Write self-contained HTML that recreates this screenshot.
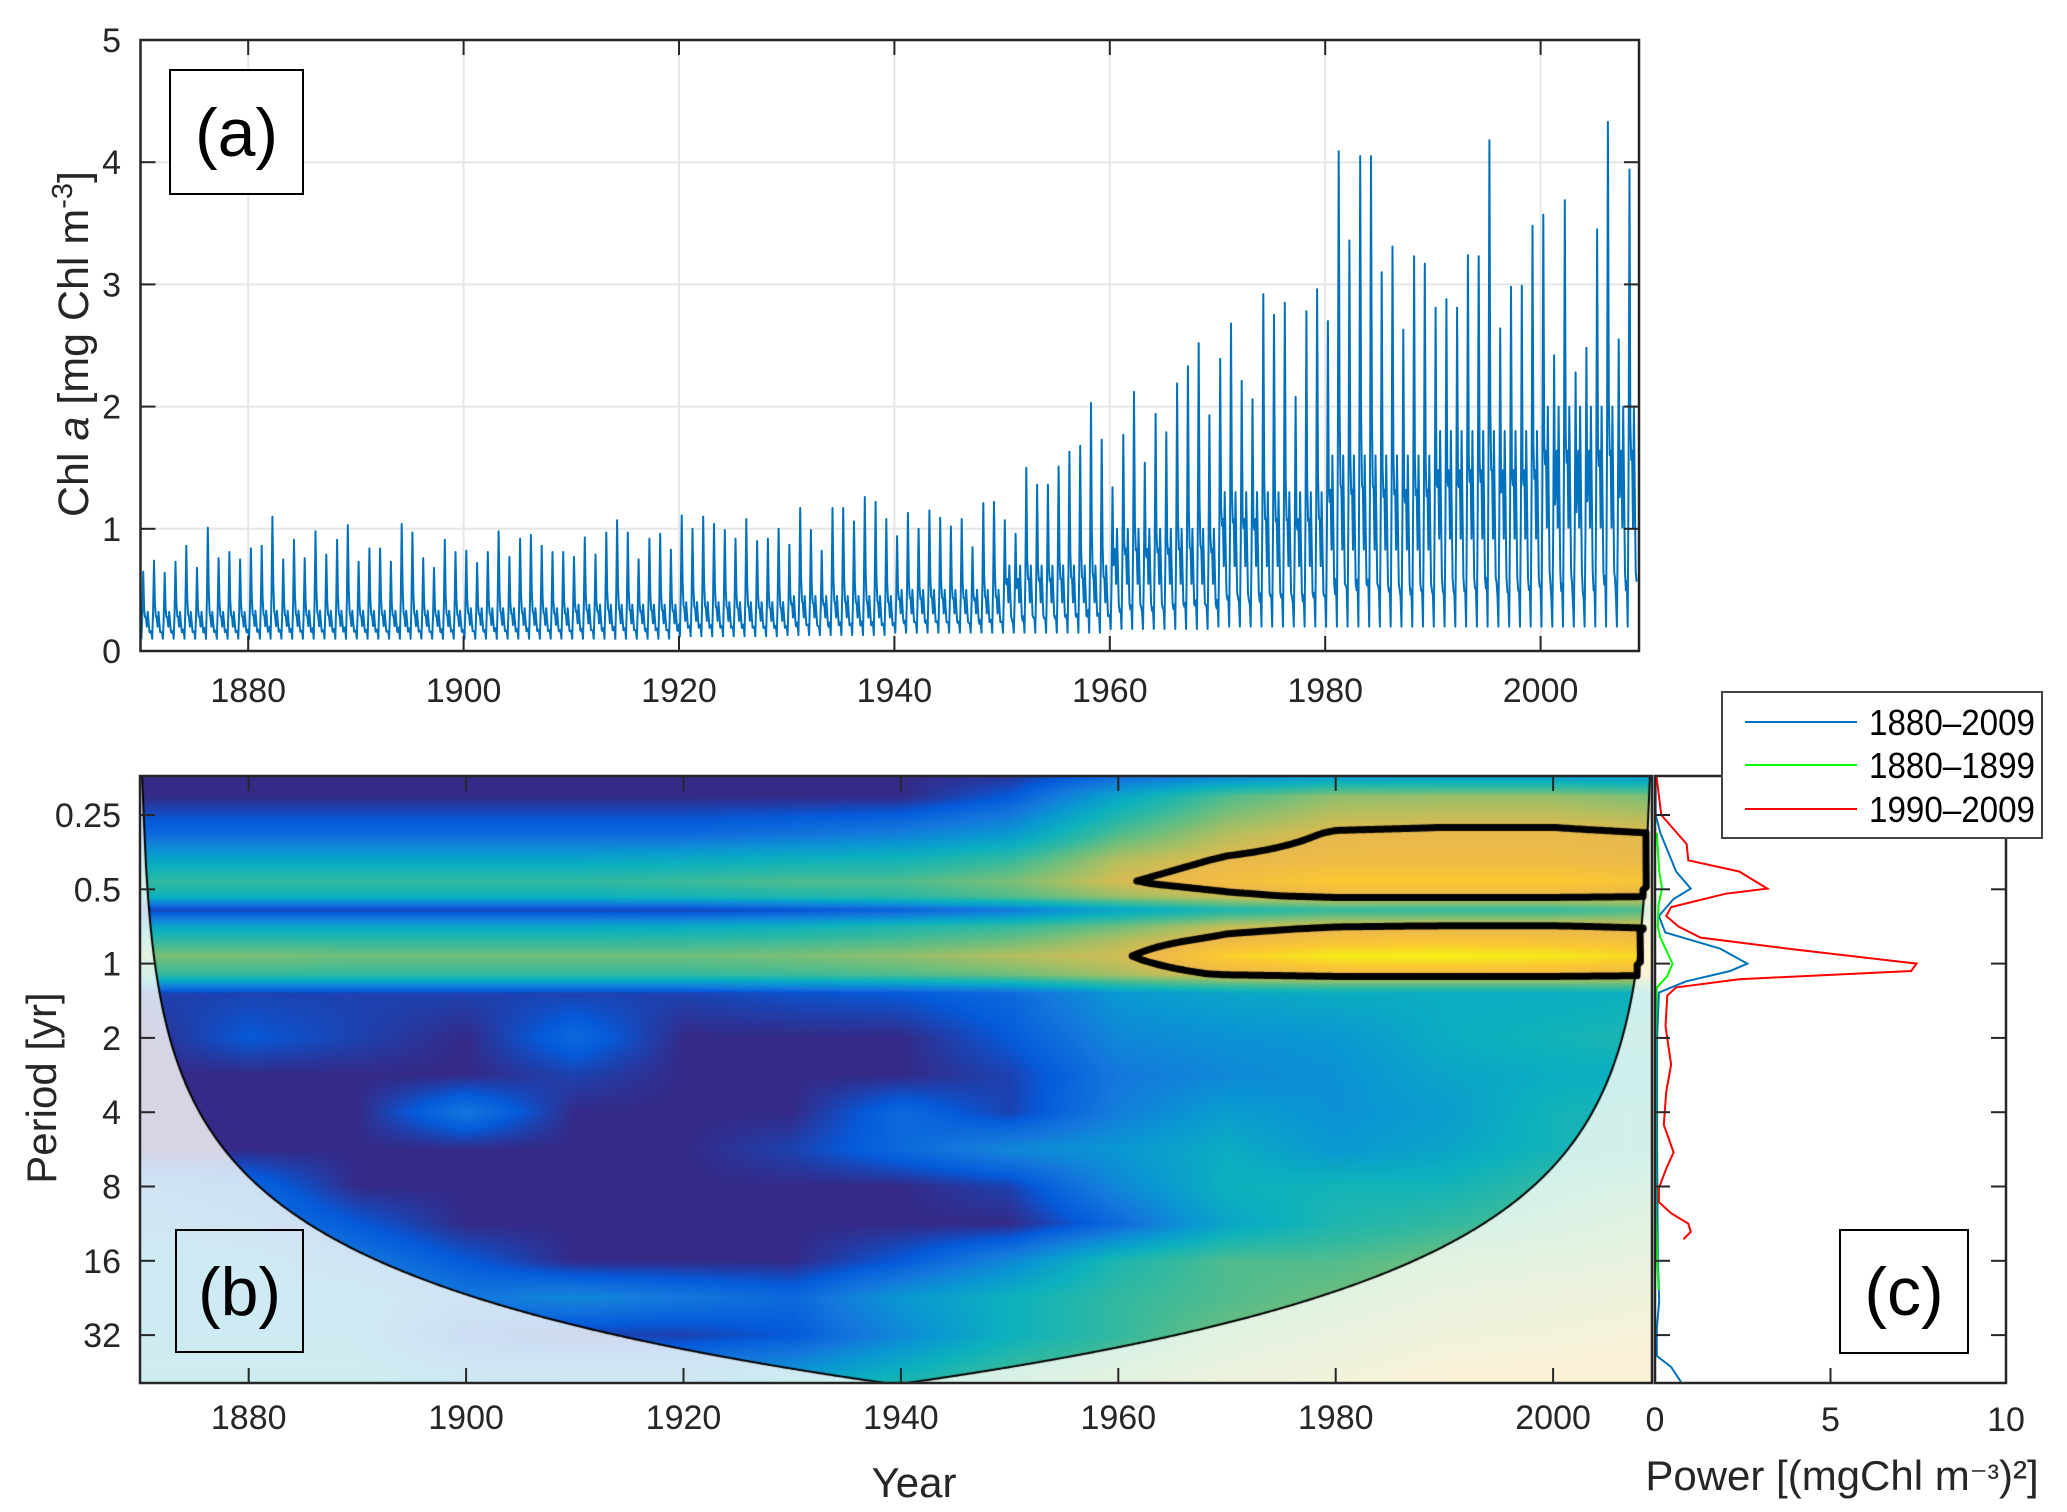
<!DOCTYPE html>
<html><head><meta charset="utf-8">
<style>
html,body{margin:0;padding:0;background:#fff;}
#wrap{position:relative;width:2067px;height:1512px;overflow:hidden;font-family:"Liberation Sans",Arial,sans-serif;}
#heat{position:absolute;left:140px;top:776px;}
#ov{position:absolute;left:0;top:0;}
</style></head>
<body>
<div id="wrap">
<canvas id="heat" width="1512" height="607"></canvas>
<svg id="ov" width="2067" height="1512" xmlns="http://www.w3.org/2000/svg"></svg>
</div>
<script>
// ---------- DATA ----------
const annualPeak = [
0.65,0.74,0.64,0.73,0.86,0.68,1.01,0.76,0.81,0.75,
0.84,0.86,1.10,0.75,0.91,0.76,0.98,0.79,0.91,1.03,
0.73,0.84,0.84,0.73,1.04,0.97,0.76,0.68,0.91,0.81,
0.82,0.72,0.81,0.98,0.77,0.92,0.95,0.86,0.81,0.81,
0.77,0.93,0.79,0.97,1.07,0.97,0.75,0.92,0.96,0.83,
1.11,1.00,1.10,1.04,0.99,0.92,1.08,0.90,0.92,1.00,
0.87,1.17,0.99,0.82,1.17,1.17,1.06,1.26,1.22,1.08,
0.94,1.13,1.00,1.15,1.09,1.02,1.08,0.85,1.21,1.22,
1.07,0.96,1.50,1.36,1.36,1.51,1.63,1.68,2.03,1.73,
1.34,1.77,2.12,1.54,1.94,1.79,2.19,2.33,2.52,1.93,
2.39,2.68,2.21,2.06,2.92,2.75,2.85,2.08,2.78,2.96,
2.70,4.09,3.36,4.05,4.05,3.10,3.31,2.63,3.23,3.17,
2.81,2.88,2.81,3.24,3.23,4.18,2.64,2.98,2.99,3.48,
3.57,2.42,3.69,2.28,2.48,3.45,4.33,2.55,3.94];
const autumnLevelByDecade = [0.32,0.33,0.33,0.35,0.38,0.40,0.45,0.50,0.70,1.00,1.30,1.60,1.80,2.00];
const troughByDecade = [0.10,0.10,0.10,0.10,0.10,0.12,0.13,0.15,0.15,0.18,0.20,0.20,0.20,0.20];
const springShape = [0.1,0,0.35,1,0.45,0.1,0,0,0,0,0,0.05];
const autumnShape = [0,0,0,0,0,0.55,0.8,0.45,1,0.6,0.25,0.1];
const chlTicksY = [0,1,2,3,4,5];
const yearTicks = [1880,1900,1920,1940,1960,1980,2000];

const heatYears = [1870,1880,1890,1900,1910,1920,1930,1940,1950,1960,1970,1980,1990,2000,2010];
const heatLog2Period = [-2.6,-2.25,-1.75,-1.4,-1.1,-0.9,-0.72,-0.5,-0.3,-0.1,0.15,0.4,1,1.5,2,2.5,3,3.5,4,4.5,5,5.65];
const heatPower = [
[0,0,0,0,0,0,0,0,0,0.1,0.15,0.2,0.2,0.2,0.2],
[0,0,0,0,0,0,0,0,0.1,0.35,0.55,0.65,0.66,0.66,0.62],
[0.15,0.15,0.15,0.15,0.15,0.15,0.18,0.22,0.3,0.55,0.7,0.77,0.78,0.78,0.76],
[0.35,0.35,0.35,0.35,0.35,0.37,0.4,0.42,0.5,0.7,0.77,0.8,0.8,0.8,0.78],
[0.5,0.5,0.5,0.5,0.5,0.52,0.55,0.55,0.62,0.75,0.82,0.88,0.88,0.88,0.85],
[0.4,0.4,0.4,0.4,0.4,0.42,0.45,0.48,0.55,0.66,0.73,0.78,0.78,0.78,0.76],
[0.05,0.05,0.05,0.05,0.05,0.05,0.08,0.12,0.2,0.35,0.45,0.5,0.5,0.5,0.55],
[0.35,0.35,0.35,0.35,0.35,0.37,0.4,0.45,0.5,0.6,0.72,0.76,0.77,0.77,0.75],
[0.5,0.5,0.5,0.5,0.5,0.5,0.52,0.55,0.6,0.7,0.8,0.85,0.86,0.85,0.82],
[0.62,0.62,0.6,0.6,0.6,0.6,0.62,0.65,0.7,0.74,0.9,0.97,0.98,0.96,0.92],
[0.5,0.5,0.5,0.5,0.5,0.5,0.52,0.55,0.6,0.68,0.77,0.8,0.8,0.8,0.78],
[0.05,0.05,0.05,0.05,0.05,0.05,0.08,0.1,0.15,0.3,0.35,0.38,0.38,0.38,0.4],
[0,0.1,0.05,0,0.15,0,0,0,0.1,0.25,0.28,0.3,0.38,0.42,0.45],
[0,0,0,0,0.05,0,0,0,0.05,0.2,0.25,0.28,0.35,0.38,0.4],
[0,0,0,0.2,0,0,0,0.15,0.05,0.22,0.32,0.28,0.32,0.42,0.45],
[0,0,0,0,0,0,0.05,0.15,0.25,0.3,0.38,0.3,0.35,0.42,0.45],
[0.2,0.15,0,0,0,0,0,0,0.05,0.25,0.4,0.42,0.42,0.5,0.55],
[0.25,0.2,0.1,0,0,0,0,0,0,0.15,0.35,0.45,0.5,0.55,0.6],
[0.3,0.3,0.2,0.1,0,0,0,0.1,0.25,0.45,0.55,0.55,0.6,0.62,0.65],
[0.3,0.3,0.3,0.2,0.25,0.2,0.15,0.3,0.4,0.5,0.55,0.6,0.65,0.68,0.7],
[0.3,0.3,0.3,0.1,0.05,0.05,0.1,0.25,0.4,0.5,0.6,0.65,0.7,0.72,0.75],
[0.35,0.35,0.35,0.3,0.3,0.3,0.35,0.45,0.55,0.62,0.68,0.72,0.78,0.8,0.8]];
const significanceLevel = 0.76;
const coiFactor = 0.73;
const periodTicks = [0.25,0.5,1,2,4,8,16,32];
const periodTickLabels = ["0.25","0.5","1","2","4","8","16","32"];

const specAllLog2 = [-2.53,-2.0,-1.76,-1.24,-1.01,-0.87,-0.64,-0.42,-0.2,0,0.1,0.24,0.39,0.99,2.47,3.95,4.54,4.91,5.28,5.43,5.63];
const specAllPow  = [0.02,0.02,0.15,0.6,1.02,0.53,0.11,0.29,1.86,2.63,2.14,0.88,0.11,0.06,0.06,0.08,0.12,0.05,0.05,0.46,0.74];
const specEarlyLog2 = [-1.76,-1.24,-1.01,-0.79,-0.5,-0.35,0,0.17,0.32,0.99,3.21,3.95,4.39];
const specEarlyPow  = [0.05,0.12,0.2,0.1,0.08,0.15,0.5,0.35,0.05,0.02,0.02,0.06,0.1];
const specLateLog2 = [-2.53,-2.0,-1.61,-1.39,-1.24,-1.01,-0.94,-0.76,-0.64,-0.5,-0.35,-0.2,0,0.1,0.21,0.32,0.43,0.84,1.36,1.73,2.17,2.54,2.76,3.02,3.21,3.36,3.5,3.61,3.71];
const specLatePow  = [0.04,0.18,0.9,0.95,2.4,3.2,2.0,0.46,0.32,0.67,1.3,3.8,7.45,7.3,2.4,0.6,0.35,0.3,0.46,0.32,0.25,0.53,0.32,0.11,0.11,0.46,0.95,1.02,0.81];
const powerTicks = [0,5,10];

// ---------- AXES ----------
const A = {l:140.5,r:1639,t:40,b:651};
const B = {l:140,r:1652,t:776,b:1383};
const C = {l:1655,r:2006,t:776,b:1383};
const xA = t => A.l + (t-1870)*10.77;
const yA = v => A.b - v*122.2;
const xB = t => B.l + (t-1870)*10.87;
const yB = l => 815 + (l+2)*74.3;
const tB = px => 1870 + (px - B.l)/10.87;
const lB = py => (py - 815)/74.3 - 2;
const xC = p => C.l + p*(C.r-C.l)/10;

const NS = 'http://www.w3.org/2000/svg';
const svg = document.getElementById('ov');
function mk(tag, attrs, parent){
  const e = document.createElementNS(NS, tag);
  for (const k in attrs) e.setAttribute(k, attrs[k]);
  (parent||svg).appendChild(e); return e;
}
const ink = '#262626';

// ---------- PANEL A ----------
const gA = mk('g',{});


const gridA = mk('g',{stroke:'#e6e6e6','stroke-width':2},gA);


yearTicks.forEach(y=>mk('line',{x1:xA(y),x2:xA(y),y1:A.t,y2:A.b},gridA));
chlTicksY.slice(1,5).forEach(v=>mk('line',{x1:A.l,x2:A.r,y1:yA(v),y2:yA(v)},gridA));
let pts=[];
for (let i=0;i<annualPeak.length;i++){
  const d=Math.floor(i/10);
  const tr=troughByDecade[d], au=autumnLevelByDecade[d], pk=annualPeak[i];
  for (let m=0;m<12;m++){
    const v=tr+springShape[m]*(pk-tr)+autumnShape[m]*(au-tr);
    pts.push(xA(1870+i+m/12).toFixed(1)+','+yA(v).toFixed(1));
  }
}
const ser = mk('polyline',{points:pts.join(' '),fill:'none',stroke:'#0072bd','stroke-width':2,'stroke-linejoin':'round'},gA);


mk('rect',{x:A.l,y:A.t,width:A.r-A.l,height:A.b-A.t,fill:'none',stroke:ink,'stroke-width':2.5},gA);
yearTicks.forEach(y=>{
  mk('line',{x1:xA(y),x2:xA(y),y1:A.b,y2:A.b-15,stroke:ink,'stroke-width':2},gA);
  mk('line',{x1:xA(y),x2:xA(y),y1:A.t,y2:A.t+15,stroke:ink,'stroke-width':2},gA);
  const t=mk('text',{x:xA(y),y:702,'text-anchor':'middle','font-size':34,fill:ink},gA);
  t.textContent=y;
  
  
});
chlTicksY.forEach(v=>{
  mk('line',{x1:A.l,x2:A.l+15,y1:yA(v),y2:yA(v),stroke:ink,'stroke-width':2},gA);
  mk('line',{x1:A.r,x2:A.r-15,y1:yA(v),y2:yA(v),stroke:ink,'stroke-width':2},gA);
  const t=mk('text',{x:121,y:yA(v)+12,'text-anchor':'end','font-size':34,fill:ink},gA);
  t.textContent=v;
  
  
});
const yl=mk('text',{x:0,y:0,transform:'translate(88,344) rotate(-90)','text-anchor':'middle','font-size':43,fill:ink},gA);
yl.innerHTML='Chl <tspan font-style="italic">a</tspan> [mg Chl m<tspan dy="-16" font-size="29">-3</tspan><tspan dy="16">]</tspan>';


const boxA=mk('rect',{x:170,y:70,width:133,height:124,fill:'#fff',stroke:'#000','stroke-width':2},gA);


const la=mk('text',{x:236.5,y:156,'text-anchor':'middle','font-size':68,fill:'#000'},gA);
la.textContent='(a)';



// ---------- PANEL B heatmap ----------
const stops=[[0,53,42,135],[0.1,5,90,218],[0.2,20,120,220],[0.3,10,152,210],[0.4,12,177,190],[0.5,50,185,160],[0.6,110,190,125],[0.7,180,190,95],[0.78,235,185,75],[0.88,252,200,50],[0.95,245,228,30],[1,249,251,14]];
function cmap(v){
  v=Math.max(0,Math.min(1,v));
  for(let i=1;i<stops.length;i++){ if(v<=stops[i][0]){const a=stops[i-1],b=stops[i],f=(v-a[0])/(b[0]-a[0]);return [a[1]+f*(b[1]-a[1]),a[2]+f*(b[2]-a[2]),a[3]+f*(b[3]-a[3])];}}
  return stops[stops.length-1].slice(1);
}
function field(t,l){
  let c=(t-heatYears[0])/10; c=Math.max(0,Math.min(heatYears.length-1.0001,c));
  const ci=Math.floor(c), cf=c-ci;
  let ri=0; const L=heatLog2Period;
  if(l<=L[0]){ri=0;l=L[0];} else if(l>=L[L.length-1]){ri=L.length-2;l=L[L.length-1];}
  else {while(L[ri+1]<l) ri++;}
  const rf=(l-L[ri])/(L[ri+1]-L[ri]);
  const p=heatPower;
  const v0=p[ri][ci]*(1-cf)+p[ri][ci+1]*cf, v1=p[ri+1][ci]*(1-cf)+p[ri+1][ci+1]*cf;
  return v0*(1-rf)+v1*rf;
}
const coiEnd = tB(B.r);
const coiLog2 = t => Math.log2(Math.max(1e-3, coiFactor*Math.min(t-1870, coiEnd-t)));
const cv=document.getElementById('heat'), ctx=cv.getContext('2d');
const W=cv.width,H=cv.height, img=ctx.createImageData(W,H);
for(let px=0;px<W;px++){
  const t=tB(B.l+px+0.5), cl=coiLog2(t);
  for(let py=0;py<H;py++){
    const l=lB(B.t+py+0.5);
    let [r,g,b]=cmap(field(t,l));
    if(l>cl){ r=r*0.2+255*0.8; g=g*0.2+255*0.8; b=b*0.2+250*0.8; }
    const k=(py*W+px)*4; img.data[k]=r;img.data[k+1]=g;img.data[k+2]=b;img.data[k+3]=255;
  }
}
ctx.putImageData(img,0,0);
const st=3, nx=Math.ceil(W/st)+1, ny=Math.ceil(H/st)+1, F=[];
for(let j=0;j<ny;j++){F.push([]);for(let i=0;i<nx;i++){
  const t=tB(B.l+i*st), l=lB(B.t+j*st);
  F[j].push(l>coiLog2(t)+0.3 ? -1 : field(t,l)-significanceLevel);
}}
ctx.strokeStyle='#000';ctx.lineWidth=7;ctx.lineCap='round';ctx.beginPath();
function ip(a,b){return a/(a-b);}
for(let j=0;j<ny-1;j++)for(let i=0;i<nx-1;i++){
  const a=F[j][i],b=F[j][i+1],c=F[j+1][i+1],d=F[j+1][i];
  const e=[];
  if((a>0)!==(b>0)) e.push([ (i+ip(a,b))*st, j*st ]);
  if((b>0)!==(c>0)) e.push([ (i+1)*st, (j+ip(b,c))*st ]);
  if((d>0)!==(c>0)) e.push([ (i+ip(d,c))*st, (j+1)*st ]);
  if((a>0)!==(d>0)) e.push([ i*st, (j+ip(a,d))*st ]);
  for(let k=0;k+1<e.length;k+=2){ctx.moveTo(e[k][0],e[k][1]);ctx.lineTo(e[k+1][0],e[k+1][1]);}
}
ctx.stroke();
ctx.strokeStyle='#000';ctx.lineWidth=2;ctx.lineCap='butt';ctx.beginPath();
for(let px=0;px<=W;px+=2){const py=yB(coiLog2(tB(B.l+px)))-B.t; if(px===0)ctx.moveTo(px,Math.min(H,Math.max(0,py)));else ctx.lineTo(px,Math.min(H,Math.max(0,py)));}
ctx.stroke();

const gB=mk('g',{});


mk('rect',{x:B.l,y:B.t,width:B.r-B.l,height:B.b-B.t,fill:'none',stroke:ink,'stroke-width':2.5},gB);
yearTicks.forEach(y=>{
  mk('line',{x1:xB(y),x2:xB(y),y1:B.b,y2:B.b-15,stroke:ink,'stroke-width':2},gB);
  mk('line',{x1:xB(y),x2:xB(y),y1:B.t,y2:B.t+15,stroke:ink,'stroke-width':2},gB);
  const t=mk('text',{x:xB(y),y:1429,'text-anchor':'middle','font-size':34,fill:ink},gB);
  t.textContent=y;
  
  
});
periodTicks.forEach((p,i)=>{
  const y=yB(Math.log2(p));
  mk('line',{x1:B.l,x2:B.l+15,y1:y,y2:y,stroke:ink,'stroke-width':2},gB);
  const t=mk('text',{x:121,y:y+12,'text-anchor':'end','font-size':34,fill:ink},gB);
  t.textContent=periodTickLabels[i];
  
  
});
const pl=mk('text',{x:0,y:0,transform:'translate(56,1088) rotate(-90)','text-anchor':'middle','font-size':42,fill:ink},gB);
pl.textContent='Period [yr]';


const yt=mk('text',{x:914,y:1497,'text-anchor':'middle','font-size':42,fill:ink},gB);
yt.textContent='Year';


const boxB=mk('rect',{x:176,y:1230,width:127,height:122,fill:'none',stroke:'#000','stroke-width':2},gB);


const lb=mk('text',{x:239.5,y:1315,'text-anchor':'middle','font-size':68,fill:'#000'},gB);
lb.textContent='(b)';



// ---------- PANEL C ----------
const gC=mk('g',{});


const defs=mk('defs',{});
const cp=mk('clipPath',{id:'clipC'},defs);
mk('rect',{x:C.l,y:C.t,width:C.r-C.l,height:C.b-C.t},cp);
function spec(L,P,color,name){
  const p=L.map((l,i)=>xC(P[i]).toFixed(1)+','+yB(l).toFixed(1)).join(' ');
  const e=mk('polyline',{points:p,fill:'none',stroke:color,'stroke-width':2,'clip-path':'url(#clipC)'},gC);
  
  
}
spec(specAllLog2,specAllPow,'#0072bd','spectrum-1880-2009');
spec(specEarlyLog2,specEarlyPow,'#00ff00','spectrum-1880-1899');
spec(specLateLog2,specLatePow,'#ff0000','spectrum-1990-2009');
mk('rect',{x:C.l,y:C.t,width:C.r-C.l,height:C.b-C.t,fill:'none',stroke:ink,'stroke-width':2.5},gC);
periodTicks.forEach(p=>{
  const y=yB(Math.log2(p));
  mk('line',{x1:C.l,x2:C.l+15,y1:y,y2:y,stroke:ink,'stroke-width':2},gC);
  mk('line',{x1:C.r,x2:C.r-15,y1:y,y2:y,stroke:ink,'stroke-width':2},gC);
});
powerTicks.forEach(p=>{
  mk('line',{x1:xC(p),x2:xC(p),y1:C.b,y2:C.b-15,stroke:ink,'stroke-width':2},gC);
  mk('line',{x1:xC(p),x2:xC(p),y1:C.t,y2:C.t+15,stroke:ink,'stroke-width':2},gC);
  const t=mk('text',{x:xC(p),y:1431,'text-anchor':'middle','font-size':34,fill:ink},gC);
  t.textContent=p;
  
  
});
const pt=mk('text',{x:1842,y:1490,'text-anchor':'middle','font-size':42,fill:ink},gC);
pt.innerHTML='Power [(mgChl m<tspan font-size="34" dy="-2">⁻³</tspan><tspan dy="2">)²]</tspan>';


const boxC=mk('rect',{x:1840,y:1230,width:128,height:123,fill:'#fff',stroke:'#000','stroke-width':2},gC);


const lc=mk('text',{x:1904,y:1315,'text-anchor':'middle','font-size':68,fill:'#000'},gC);
lc.textContent='(c)';



// legend
const gL=mk('g',{});


mk('rect',{x:1722,y:692,width:320,height:146,fill:'#fff',stroke:'#444','stroke-width':2},gL);
const legNames=['1880–2009','1880–1899','1990–2009'];
const legColors=['#0072bd','#00ff00','#ff0000'];
const legY=[722,765,809];
legNames.forEach((n,i)=>{
  const ln=mk('line',{x1:1745,x2:1857,y1:legY[i],y2:legY[i],stroke:legColors[i],'stroke-width':2},gL);
  
  
  const t=mk('text',{x:1869,y:legY[i]+13,'font-size':36,fill:'#000',textLength:166,lengthAdjust:'spacingAndGlyphs'},gL);
  t.textContent=n;
  
  
});
</script>
</body></html>
